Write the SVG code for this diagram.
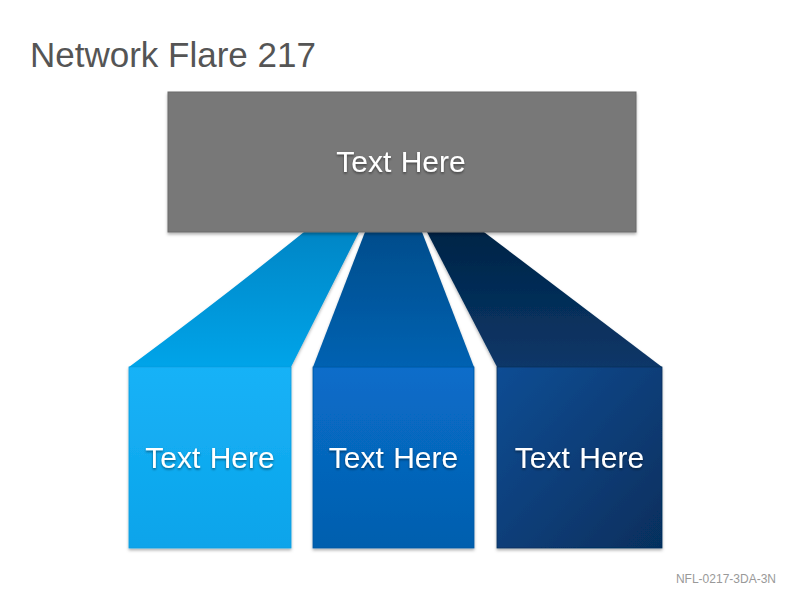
<svg xmlns="http://www.w3.org/2000/svg" width="800" height="600" viewBox="0 0 800 600">
  <defs>
    <linearGradient id="gFlare1" x1="0" y1="0" x2="0" y2="1">
      <stop offset="0" stop-color="#0086c6"/>
      <stop offset="1" stop-color="#05a4e9"/>
    </linearGradient>
    <linearGradient id="gFlare2" x1="0" y1="0" x2="0" y2="1">
      <stop offset="0" stop-color="#004d8c"/>
      <stop offset="1" stop-color="#0062b2"/>
    </linearGradient>
    <linearGradient id="gFlare3" x1="0" y1="0" x2="0" y2="1">
      <stop offset="0" stop-color="#002447"/>
      <stop offset="1" stop-color="#0b3768"/>
    </linearGradient>
    <linearGradient id="gBox1" x1="0" y1="0" x2="0" y2="1">
      <stop offset="0" stop-color="#19b2f7"/>
      <stop offset="1" stop-color="#09a4ea"/>
    </linearGradient>
    <linearGradient id="gBox2" x1="0" y1="0" x2="0" y2="1">
      <stop offset="0" stop-color="#086dca"/>
      <stop offset="1" stop-color="#045fae"/>
    </linearGradient>
    <linearGradient id="gBox3" x1="0" y1="0" x2="1" y2="1">
      <stop offset="0" stop-color="#0e4d94"/>
      <stop offset="1" stop-color="#062f5d"/>
    </linearGradient>
    <filter id="shadow" x="-10%" y="-10%" width="120%" height="130%">
      <feDropShadow dx="0" dy="2" stdDeviation="1.5" flood-color="#000" flood-opacity="0.3"/>
    </filter>
    <filter id="tshadow" x="-10%" y="-20%" width="120%" height="150%">
      <feDropShadow dx="0" dy="1.5" stdDeviation="1" flood-color="#000" flood-opacity="0.45"/>
    </filter>
  </defs>
  <style>
    .label { font-family: "Liberation Sans", Arial, sans-serif; font-size: 30px; fill: #ffffff; text-anchor: middle; word-spacing: 1px; }
    .title { font-family: "Liberation Sans", Arial, sans-serif; font-size: 35px; fill: #555555; }
    .foot { font-family: "Liberation Sans", Arial, sans-serif; font-size: 12px; fill: #999999; text-anchor: end; }
  </style>
  <rect width="800" height="600" fill="#ffffff"/>
  <text class="title" x="30" y="67">Network Flare 217</text>

  <g id="connectors">
    <path d="M304,232 L359,232 L291,367 L129,367 Q222,298 304,232 Z" fill="url(#gFlare1)" filter="url(#shadow)"/>
    <path d="M365,232 L422,232 L474,367 L313,367 Z" fill="url(#gFlare2)" filter="url(#shadow)"/>
    <path d="M427,232 L484,232 L662,367 L497,367 Z" fill="url(#gFlare3)" filter="url(#shadow)"/>
  </g>

  <g id="top">
    <rect x="168" y="92" width="468" height="140" fill="#787878" stroke="#6a6a6a" stroke-width="1" filter="url(#shadow)"/>
    <text class="label" x="401" y="172" filter="url(#tshadow)">Text Here</text>
  </g>

  <g id="box1">
    <rect x="129" y="367" width="162" height="181" fill="url(#gBox1)" stroke="#0a9ee0" stroke-width="0.8" filter="url(#shadow)"/>
    <text class="label" x="210" y="468" filter="url(#tshadow)">Text Here</text>
  </g>
  <g id="box2">
    <rect x="313" y="367" width="161" height="181" fill="url(#gBox2)" stroke="#0558a2" stroke-width="0.8" filter="url(#shadow)"/>
    <text class="label" x="393.5" y="468" filter="url(#tshadow)">Text Here</text>
  </g>
  <g id="box3">
    <rect x="497" y="367" width="165" height="181" fill="url(#gBox3)" stroke="#062f5d" stroke-width="0.8" filter="url(#shadow)"/>
    <text class="label" x="579.5" y="468" filter="url(#tshadow)">Text Here</text>
  </g>

  <text class="foot" x="776" y="583">NFL-0217-3DA-3N</text>
</svg>
